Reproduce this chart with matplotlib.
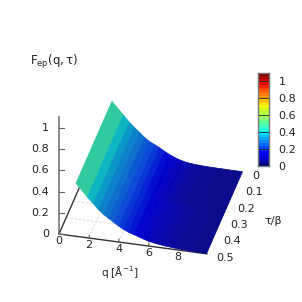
import matplotlib
matplotlib.use("Agg")
import matplotlib.pyplot as plt
from matplotlib.collections import PolyCollection
from matplotlib.colors import LinearSegmentedColormap
import numpy as np

# surface values
q_vals = [1.14, 1.9, 2.3, 2.65, 3.0, 3.33, 3.66, 4.0, 4.33, 4.66, 5.0, 5.33, 5.66, 6.0,
          6.25, 6.5, 6.75, 7.0, 7.25, 7.5, 7.75, 8.0, 8.25, 8.5, 8.75, 9.0, 9.25, 9.5, 9.7, 9.9]
tau_vals = [0.0, 0.25, 0.5]
F_tau0 = [0.50, 0.385, 0.325, 0.28, 0.24, 0.20, 0.168, 0.145, 0.122, 0.095, 0.07, 0.05, 0.034, 0.022,
          0.016, 0.012, 0.009, 0.007, 0.005, 0.004, 0.003, 0.003, 0.002, 0.002, 0.002, 0.001, 0.001, 0.001, 0.001, 0.001]
F_tau25 = [0.50, 0.385, 0.327, 0.28, 0.24, 0.205, 0.174, 0.148, 0.124, 0.1, 0.08, 0.062, 0.047, 0.034,
           0.028, 0.022, 0.018, 0.015, 0.012, 0.01, 0.009, 0.007, 0.006, 0.005, 0.004, 0.003, 0.003, 0.002, 0.002, 0.001]
F_tau5 = [0.50, 0.385, 0.33, 0.28, 0.24, 0.21, 0.18, 0.15, 0.125, 0.105, 0.09, 0.075, 0.06, 0.045,
          0.04, 0.033, 0.028, 0.023, 0.02, 0.017, 0.014, 0.011, 0.009, 0.008, 0.006, 0.005, 0.004, 0.003, 0.002, 0.001]

q_ticks = [0, 2, 4, 6, 8]
tau_ticks = [0, 0.1, 0.2, 0.3, 0.4, 0.5]
z_ticks = [0, 0.2, 0.4, 0.6, 0.8, 1]
cb_ticks = [0, 0.2, 0.4, 0.6, 0.8, 1]
q_max = 9.93
z_top = 1.1
cb_max = 1.1
n_levels = 32

# surface colours as they look in the picture
surf_levels = [0, 0.015, 0.04, 0.07, 0.15, 0.22, 0.30, 0.38, 0.47, 0.5]
surf_colors = ["#0a0a8c", "#0a0aa5", "#0505be", "#0000d2", "#0a46d7", "#0f6ecd", "#0a96c8", "#0fc3be", "#3ccd96", "#3ccd96"]


def project(q, tau, z):
    # gnuplot style view, worked out in pixels
    x = 59 + 14.9 * q + 72 * (0.5 - tau)
    y = 234 + 2.0 * q - 164 * (0.5 - tau) - 106 * z
    return x, y


def fmt(v):
    return f"{v:g}"


F = np.array([F_tau0, F_tau25, F_tau5])
q = np.array(q_vals)
tau = np.array(tau_vals)
cmap = plt.get_cmap("jet", n_levels)
surf_cmap = LinearSegmentedColormap.from_list(
    "surf", [(v / surf_levels[-1], c) for v, c in zip(surf_levels, surf_colors)], N=120)

fig = plt.figure(figsize=(3.02, 3.02), dpi=100)
ax = fig.add_axes([0, 0, 1, 1])
ax.set_xlim(0, 302)
ax.set_ylim(302, 0)
ax.axis("off")

# floor grid
grid = dict(color="#d8d8d8", lw=0.6, ls=(0, (3, 2)), zorder=1)
for t in q_ticks[1:]:
    ax.plot(*zip(project(t, 0.5, 0), project(t, 0, 0)), **grid)
for t in tau_ticks[:-1]:
    ax.plot(*zip(project(0, t, 0), project(q_max, t, 0)), **grid)

# axes on the floor
ax.plot(*zip(project(0, 0.5, 0), project(q_max, 0.5, 0)), color="#333333", lw=1, zorder=2)
ax.plot(*zip(project(0, 0.5, 0), project(0, 0, 0)), color="#333333", lw=1, zorder=2)
ax.plot(*zip(project(0, 0.5, 0), project(0, 0.5, z_top)), color="#777777", lw=1.2, zorder=2)

for t in q_ticks:
    x, y = project(t, 0.5, 0)
    ax.plot([x, x + 0.6], [y, y - 3], color="#555555", lw=0.7, zorder=2)
    ax.text(x, y + 7, fmt(t), ha="center", va="center", fontsize=8, color="#222222")
for t in tau_ticks:
    x, y = project(q_max, t, 0)
    ax.text(x + 9, y + 4, fmt(t), ha="left", va="center", fontsize=8, color="#222222")
for t in z_ticks:
    x, y = project(0, 0.5, t)
    ax.plot([x, x + 4.5], [y, y], color="#666666", lw=0.8, zorder=2)
    ax.text(x - 10, y, fmt(t), ha="right", va="center", fontsize=8, color="#222222")

# surface, flat coloured cells
polys = []
cols = []
for i in range(len(tau) - 1):
    for j in range(len(q) - 1):
        polys.append([
            project(q[j], tau[i], F[i, j]),
            project(q[j + 1], tau[i], F[i, j + 1]),
            project(q[j + 1], tau[i + 1], F[i + 1, j + 1]),
            project(q[j], tau[i + 1], F[i + 1, j]),
        ])
        cols.append(surf_cmap(F[i:i + 2, j:j + 2].mean() / surf_levels[-1]))
ax.add_collection(PolyCollection(polys, facecolors=cols, edgecolors=cols, linewidths=0.5, zorder=3))

ax.text(30, 62, r"$\mathdefault{F_{ep}(q,\tau)}$", ha="left", va="center", fontsize=8.5, color="#222222")
ax.text(120, 272, r"q [Å$\mathdefault{^{-1}}$]", ha="center", va="center", fontsize=7.5, color="#222222")
ax.text(273, 221, "τ/β", ha="center", va="center", fontsize=8, color="#222222")

# colour box
cax = fig.add_axes([258 / 302, 1 - 166 / 302, 11 / 302, 93 / 302])
levels = np.linspace(0, cb_max, n_levels + 1)
cax.pcolormesh([0, 1], levels, (levels[:-1] + levels[1:])[:, None] / 2, cmap=cmap, vmin=0, vmax=cb_max)
cax.set_xticks([])
cax.set_ylim(0, cb_max)
cax.set_yticks(cb_ticks)
cax.set_yticklabels([fmt(t) for t in cb_ticks], fontsize=8, color="#222222")
cax.yaxis.tick_right()
cax.tick_params(axis="y", direction="in", length=7.9, width=0.6, pad=7, color="#222222")
for s in cax.spines.values():
    s.set_color("#777777")
    s.set_linewidth(1)

fig.savefig("out.png", dpi=100)
